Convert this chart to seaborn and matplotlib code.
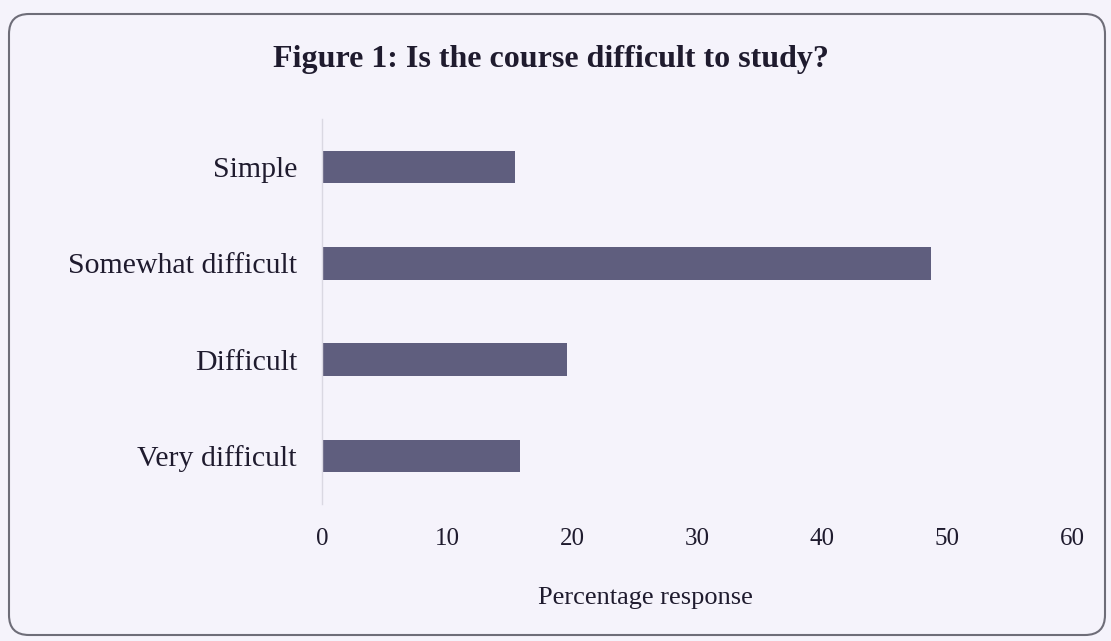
import matplotlib
matplotlib.use("Agg")
import matplotlib.pyplot as plt
from matplotlib.patches import FancyBboxPatch
import seaborn as sns
import pandas as pd

# survey answers (percent of respondents)
categories = ["Simple", "Somewhat difficult", "Difficult", "Very difficult"]
percentages = [15.4, 48.7, 19.6, 15.8]
x_ticks = [0, 10, 20, 30, 40, 50, 60]

bg = "#F5F3FB"
bar_color = "#5F5E7E"
text_color = "#1F1B2E"

sns.set_theme(style="white")
plt.rcParams["font.family"] = ["Liberation Serif", "DejaVu Serif"]

df = pd.DataFrame({"answer": categories, "pct": percentages})

fig = plt.figure(figsize=(11.11, 6.41), dpi=100, facecolor=bg)
ax = fig.add_axes([322 / 1111, 1 - 504 / 641, 750 / 1111, 385 / 641])
ax.set_facecolor(bg)

sns.barplot(data=df, x="pct", y="answer", orient="h", color=bar_color,
            width=0.34, saturation=1, linewidth=0, ax=ax)

ax.set_xlim(0, 60)
ax.set_xticks(x_ticks)
ax.set_xticklabels([str(t) for t in x_ticks])
ax.tick_params(axis="x", length=0, pad=17, labelsize=18, labelcolor=text_color)
ax.tick_params(axis="y", length=0, pad=18, labelsize=21.5, labelcolor=text_color)

for side in ["top", "right", "bottom"]:
    ax.spines[side].set_visible(False)
ax.spines["left"].set_color("#DAD8E2")
ax.spines["left"].set_linewidth(1)

ax.set_ylabel("")
ax.set_xlabel("Percentage response", fontsize=19, color=text_color)
ax.xaxis.label.set_va("center")
ax.xaxis.set_label_coords((645 - 322) / 750, -(598 - 504) / 385)

fig.text(551 / 1111, 1 - 59 / 641, "Figure 1: Is the course difficult to study?",
         ha="center", va="center", fontsize=23, fontweight="bold", color=text_color)

# rounded frame around the whole figure
frame = FancyBboxPatch((0.09, 0.06), 10.96, 6.21,
                       boxstyle="round,pad=0,rounding_size=0.2",
                       transform=fig.dpi_scale_trans, facecolor="none",
                       edgecolor="#6E6D78", linewidth=1.5)
fig.patches.append(frame)

fig.savefig("out.png", dpi=100, facecolor=bg)
